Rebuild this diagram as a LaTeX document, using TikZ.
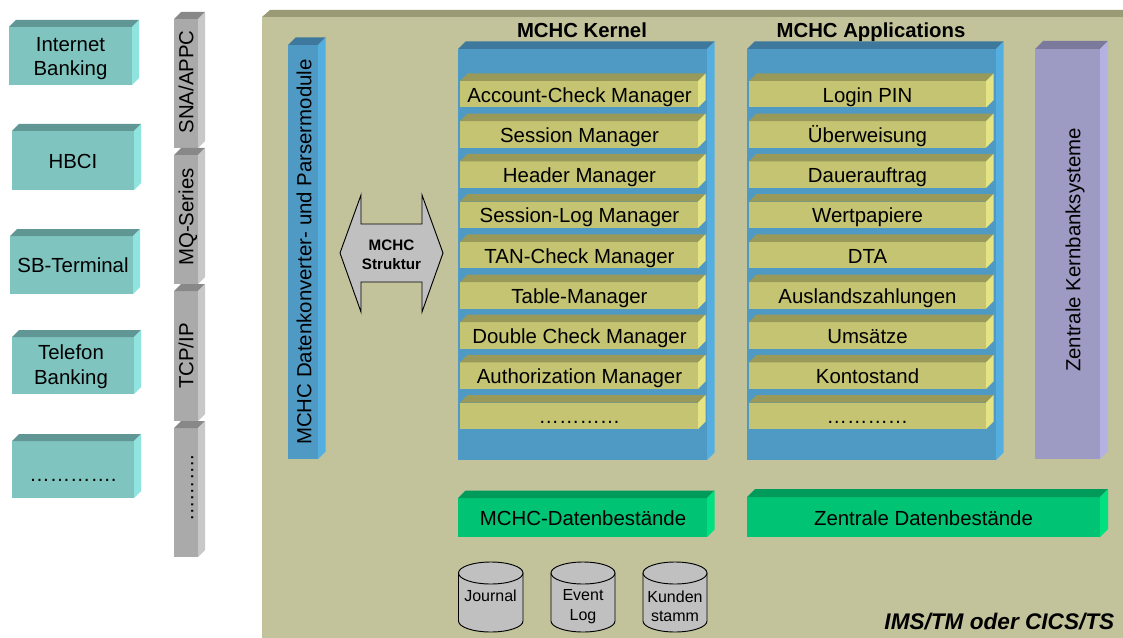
\documentclass[tikz,border=0pt]{standalone}
\usepackage{fontspec}
\setmainfont{Liberation Sans}
\definecolor{tealF}{HTML}{80C4C0}\definecolor{tealT}{HTML}{609694}\definecolor{tealS}{HTML}{90E4E0}
\definecolor{grayF}{HTML}{AAAAAA}\definecolor{grayT}{HTML}{888888}\definecolor{grayS}{HTML}{C8C8C8}
\definecolor{oliveF}{HTML}{C3C39B}\definecolor{oliveT}{HTML}{9A9A76}
\definecolor{blueF}{HTML}{4F9AC4}\definecolor{blueT}{HTML}{3E789C}\definecolor{blueS}{HTML}{55AEE0}
\definecolor{yelF}{HTML}{C4C472}\definecolor{yelT}{HTML}{99995A}\definecolor{yelS}{HTML}{E4E484}
\definecolor{grnF}{HTML}{00C373}\definecolor{grnT}{HTML}{009A5A}\definecolor{grnS}{HTML}{00E080}
\definecolor{purF}{HTML}{9D9AC4}\definecolor{purT}{HTML}{7C7A9C}\definecolor{purS}{HTML}{B4B2E2}
\definecolor{cylF}{HTML}{C0C0C0}
% x0 y0 x1 y1 depth colourprefix
\newcommand{\cuboid}[6]{%
  \fill[#6F] (#1,#2) rectangle (#3,#4);
  \fill[#6T] (#1,#2) -- ++(#5,-#5) -- (#3+#5,#2-#5) -- (#3,#2) -- cycle;
  \fill[#6S] (#3,#2) -- (#3+#5,#2-#5) -- (#3+#5,#4-#5) -- (#3,#4) -- cycle;
}
% x0 x1 ytop ybottom (the y axis points down, so angle 90 is the lower side)
\newcommand{\drum}[4]{%
  \pgfmathsetmacro{\rx}{(#2-#1)/2}
  \draw[cylshape] (#1,#3) -- (#1,#4) arc[start angle=180,end angle=0,x radius=\rx,y radius=11] -- (#2,#3)
     arc[start angle=360,end angle=180,x radius=\rx,y radius=11] -- cycle;
  \draw[cylshape] (#1,#3) arc[start angle=180,end angle=0,x radius=\rx,y radius=11];
}
\tikzset{
  lbl/.style={inner sep=0pt,align=center,font=\fontsize{15.3}{18.4}\selectfont,text=black},
  one/.style={lbl,text height=11pt,text depth=3pt},
  vert/.style={one,rotate=90},
  ttl/.style={one,font=\fontsize{15.25}{18}\bfseries\selectfont},
  small/.style={lbl,font=\fontsize{12}{14.6}\selectfont},
  cylshape/.style={fill=cylF,draw=black,line width=0.7pt},
  harrow/.style={fill=cylF,draw=black,line width=0.7pt,line join=miter}
}
\begin{document}
\begin{tikzpicture}[x=0.75pt,y=-0.75pt]
\useasboundingbox (0,0) rectangle (1123,638);
\fill[white] (0,0) rectangle (1123,638);
% main panel
\fill[oliveF] (262,17) rectangle (1123,638);
\fill[oliveT] (262,17) -- (270,10) -- (1123,10) -- (1123,17) -- cycle;
% left boxes
\cuboid{9}{27}{132}{85}{7}{teal}
\node[lbl] (ib) at (70.5,58.5) {Internet\\Banking};
\cuboid{12}{131}{134}{190}{7}{teal}
\node[one] (hbci) at (73,163) {HBCI};
\cuboid{10}{236}{133}{294}{7}{teal}
\node[one] (sb) at (73,267) {SB-Terminal};
\cuboid{12}{337}{134}{394}{7}{teal}
\node[lbl] (tel) at (71,366.5) {Telefon\\Banking};
\cuboid{12}{441}{134}{498}{7}{teal}
\node[one] (ldots) at (73,476) {………….};
% protocol columns
\cuboid{174}{19}{198}{148}{7}{gray}
\node[vert] (sna) at (188,82) {SNA/APPC};
\cuboid{174}{155}{198}{284}{7}{gray}
\node[vert] (mq) at (188,217) {MQ-Series};
\cuboid{174}{291}{198}{421}{7}{gray}
\node[vert] (tcp) at (188,356) {TCP/IP};
\cuboid{174}{428}{198}{557}{7}{gray}
\node[vert] (pdots) at (188,488) {……….};
% converter column
\cuboid{288}{45}{318}{459}{7.5}{blue}
\node[vert] (conv) at (306,252) {MCHC Datenkonverter- und Parsermodule};
% double arrow
\draw[harrow] (340,253) -- (361,195) -- (361,224) -- (422,224) -- (422,195) -- (443,253) -- (422,312) -- (422,282) -- (361,282) -- (361,312) -- cycle;
\node[lbl,font=\fontsize{11.4}{14.4}\bfseries\selectfont] (struct) at (391.5,255) {MCHC\\Struktur};
% kernel and applications
\node[ttl] (kt) at (582,32) {MCHC Kernel};
\node[ttl] (at) at (871,32) {MCHC Applications};
\cuboid{458}{49}{707}{460}{7.5}{blue}
\cuboid{747}{49}{996}{460}{7.5}{blue}
\foreach \i/\ka/\ap in {0/Account-Check Manager/Login PIN,1/Session Manager/Überweisung,2/Header Manager/Dauerauftrag,3/Session-Log Manager/Wertpapiere,4/TAN-Check Manager/DTA,5/Table-Manager/Auslandszahlungen,6/Double Check Manager/Umsätze,7/Authorization Manager/Kontostand,8/…………/…………}{
  \pgfmathsetmacro{\yt}{81+40.2*\i}
  \pgfmathsetmacro{\yb}{\yt+26.5}
  \pgfmathsetmacro{\yc}{\yt+16}
  \cuboid{460}{\yt}{698}{\yb}{7.5}{yel}
  \cuboid{749}{\yt}{986}{\yb}{7.5}{yel}
  \node[one] (k\i) at (579.5,\yc) {\ka};
  \node[one] (a\i) at (867.5,\yc) {\ap};
}
% core column
\cuboid{1035}{49}{1100}{459}{8}{pur}
\node[vert] (core) at (1075,250) {Zentrale Kernbanksysteme};
% data stores
\cuboid{458}{498}{707}{537}{7.5}{grn}
\node[one] (md) at (583,520) {MCHC-Datenbestände};
\cuboid{747}{497}{1100}{537}{8}{grn}
\node[one] (zd) at (923.5,520) {Zentrale Datenbestände};
% drums
\drum{458.5}{523}{573}{621}
\node[small] (j) at (490.5,596) {Journal};
\drum{551}{615}{573}{621}
\node[small] (e) at (583,606.5) {Event\\Log};
\drum{643}{707}{573}{621}
\node[small] (ks) at (675,606.5) {Kunden\\stamm};
\node[lbl,font=\fontsize{16.95}{20}\bfseries\itshape\selectfont,anchor=east] (ims) at (1114.5,622) {IMS/TM oder CICS/TS};
\end{tikzpicture}
\end{document}
